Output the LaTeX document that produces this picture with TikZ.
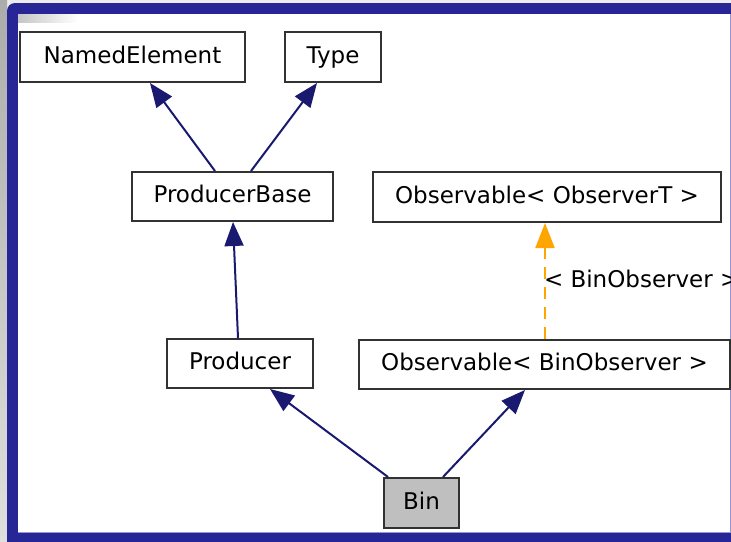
\documentclass[tikz,border=0pt]{standalone}
\usepackage{fontspec}
\setmainfont{DejaVu Sans}
\usetikzlibrary{arrows.meta}
\definecolor{framebg}{RGB}{38,38,150}
\definecolor{frameedge}{RGB}{150,150,210}
\definecolor{edgeblue}{RGB}{25,25,112}
\definecolor{inhorange}{RGB}{255,165,0}
\definecolor{boxline}{RGB}{50,50,50}
\definecolor{selfill}{RGB}{191,191,191}
\tikzset{
  cls/.style={draw=boxline, line width=2pt, fill=white, inner sep=0pt,
    font=\fontsize{23}{27}\selectfont, text=black,
    text height=17pt, text depth=5pt},
  inh/.style={draw=edgeblue, line width=2pt,
    -{Triangle[length=24pt,width=19pt]}, fill=edgeblue},
  tmpl/.style={draw=inhorange, line width=2pt, dash pattern=on 12pt off 8pt,
    -{Triangle[length=25pt,width=19pt,fill=inhorange]}},
}
\begin{document}
\begin{tikzpicture}[x=1pt,y=-1pt]
  \useasboundingbox (0,0) rectangle (731,541);
  \clip (0,0) rectangle (731,541);
  % surrounding frame
  \shade[top color=gray!15, bottom color=gray!5] (0,0) rectangle (731,541);
  \shade[top color=gray!65, bottom color=gray!25] (0,0) rectangle (7,541);
  \fill[framebg, rounded corners=8pt] (7,3) rectangle (770,570);
  \fill[frameedge] (18,14) rectangle (731,533);
  \fill[white] (18,14) rectangle (730,532);
  \shade[left color=gray!45, right color=white] (18,14) rectangle (78,22);

  % classes
  \node[cls, minimum width=225pt, minimum height=50pt] (ne) at (132.5,57) {NamedElement};
  \node[cls, minimum width=96pt, minimum height=50pt] (ty) at (333,57) {Type};
  \node[cls, minimum width=201pt, minimum height=49pt] (pb) at (232.5,196.5) {ProducerBase};
  \node[cls, minimum width=348pt, minimum height=50pt] (ot) at (547,197) {Observable< ObserverT >};
  \node[cls, minimum width=146pt, minimum height=49pt] (pr) at (240,363.5) {Producer};
  \node[cls, minimum width=371pt, minimum height=49pt] (ob) at (544.5,364.5) {Observable< BinObserver >};
  \node[cls, fill=selfill, minimum width=75pt, minimum height=50pt] (bin) at (421.5,503) {Bin};

  % inheritance
  \draw[inh] ([xshift=-17.5pt]pb.north) -- ([xshift=17.5pt]ne.south);
  \draw[inh] ([xshift=18.5pt]pb.north) -- ([xshift=-16pt]ty.south);
  \draw[inh] ([xshift=-2pt]pr.north) -- ([xshift=0.5pt]pb.south);
  \draw[inh] ([xshift=-33.5pt]bin.north) -- ([xshift=30pt]pr.south);
  \draw[inh] ([xshift=21.5pt]bin.north) -- ([xshift=-19.5pt]ob.south);

  % template instantiation
  \draw[tmpl] ([xshift=0.5pt]ob.north) -- ([xshift=-2pt]ot.south)
    node[pos=0.5, anchor=west, inner sep=0pt, xshift=-2pt, yshift=2pt,
      font=\fontsize{23}{27}\selectfont] (lbl) {< BinObserver >};
\end{tikzpicture}
\end{document}
